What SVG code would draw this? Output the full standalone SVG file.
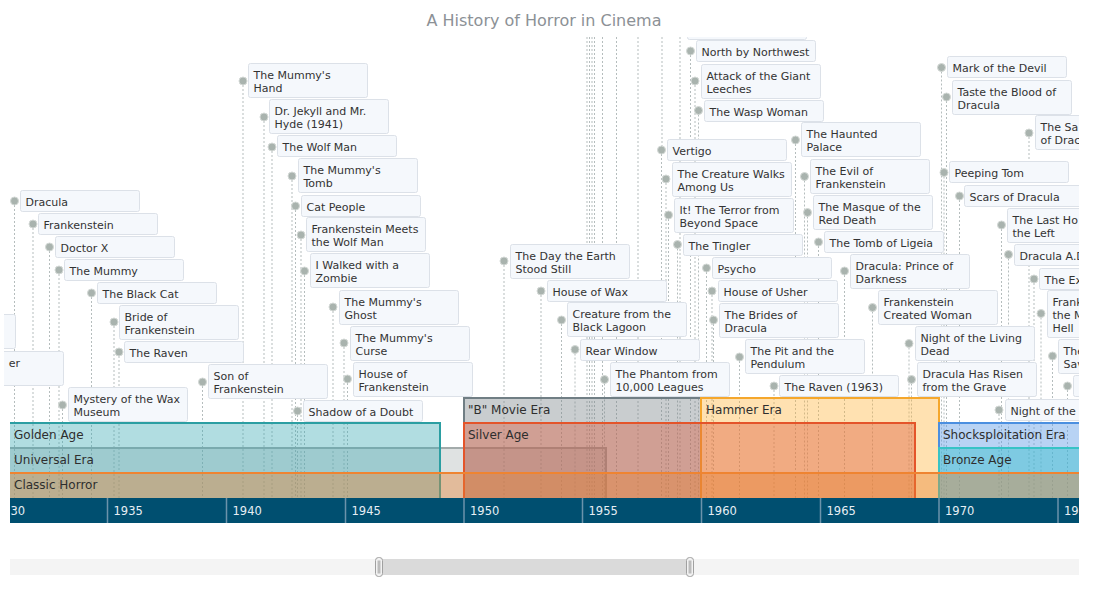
<svg xmlns="http://www.w3.org/2000/svg" width="1098" height="589" viewBox="0 0 1098 589">
<style>
.ln{stroke:#b5bdbd;stroke-width:1;stroke-dasharray:2 2;fill:none}
.mk{fill:#a9b3ae;stroke:#d4d9d6;stroke-width:1}
.bx{fill:#f5f8fc;stroke:#dce1e8;stroke-width:1}
.t{font-family:"DejaVu Sans",Verdana,sans-serif;font-size:11px;fill:#333}
.era{font-family:"DejaVu Sans",Verdana,sans-serif;font-size:12px;fill:#2e2e2e}
.yr{font-family:"DejaVu Sans",Verdana,sans-serif;font-size:11.5px;fill:#e6eef4}
.tk{stroke:#6b93ab;stroke-width:1.5}
.band{stroke-width:2}
</style>
<defs>
<clipPath id="pc"><rect x="4" y="37" width="1075" height="461"/></clipPath>
<clipPath id="bc"><rect x="10" y="0" width="1069" height="498"/></clipPath>
<clipPath id="ac"><rect x="10" y="498" width="1069" height="25"/></clipPath>
</defs>
<rect width="1098" height="589" fill="#ffffff"/>
<text x="544" y="26" text-anchor="middle" font-family="'DejaVu Sans',Verdana,sans-serif" font-size="16" fill="#8c9196">A History of Horror in Cinema</text>

<g id="connectors" clip-path="url(#pc)">
<path class="ln" d="M14.5 205V498M33 228V498M49.5 251V498M59 274V498M91.5 297V498M114 326V498M119 356V498M202.5 386V498M62.5 409V498M243 85V498M264 121V498M272 151V498M292 180V498M295.5 210V498M301 239V498M304.5 275V498M333 311V498M344 347V498M347.5 383V498M297.5 415V498M504 265V498M541 295V498M561.5 324V498M575 353.5V498M604.5 383.5V498M587 37V498M589.5 37V498M592 37V498M594.5 37V498M602.5 37V498M616.5 37V498M638 37V498M662 37V146M680 37V498M690.5 55V498M695 85V498M698.5 114.5V498M661.5 154V498M666 183V498M668.5 219V498M795.5 144V498M804.5 180.5V498M807.5 216.5V498M677.5 248.5V498M818.5 246V498M706.5 272V498M712 295V498M713.5 324V498M739.5 361V498M774 390V498M844.5 275V498M872.5 311.5V498M909 347.5V498M911.5 383.5V498M941.5 71.5V498M946.5 101V498M1029 137V498M944 176.5V498M959.5 200V498M1001.5 229V498M1008.5 258.5V498M1034 283V498M1041 317.5V498M1052.5 360V498M1067.5 390V498M999 414V498"/>
</g>

<g id="bands" clip-path="url(#bc)">
<rect id="era-universal" class="band" x="-10" y="448" width="616" height="60" fill="rgb(150,160,160)" fill-opacity="0.3" stroke="#a3abab"/>
<rect id="era-golden" class="band" x="-10" y="423" width="450" height="85" fill="rgb(60,170,180)" fill-opacity="0.4" stroke="#2b9ea2"/>
<rect id="era-bmovie" class="band" x="464" y="398" width="237" height="110" fill="rgb(120,130,135)" fill-opacity="0.4" stroke="#707e84"/>
<rect id="era-hammer" class="band" x="701" y="398" width="238" height="110" fill="rgb(255,180,60)" fill-opacity="0.4" stroke="#f5a72c"/>
<rect id="era-silver" class="band" x="464" y="423" width="451" height="85" fill="rgb(220,90,60)" fill-opacity="0.4" stroke="#e4542a"/>
<rect id="era-shock" class="band" x="939" y="423" width="200" height="85" fill="rgb(100,160,230)" fill-opacity="0.46" stroke="#4b8fe0"/>
<rect id="era-bronze" class="band" x="939" y="448" width="200" height="60" fill="rgb(40,190,200)" fill-opacity="0.4" stroke="#37c3c6"/>
<rect id="era-classic" class="band" x="-10" y="473" width="1150" height="35" fill="rgb(230,130,50)" fill-opacity="0.4" stroke="#ef8431"/>
</g>
<g id="era-labels">
<text class="era" x="14" y="464">Universal Era</text>
<text class="era" x="14" y="439">Golden Age</text>
<text class="era" x="468" y="414">"B" Movie Era</text>
<text class="era" x="706" y="414">Hammer Era</text>
<text class="era" x="468" y="439">Silver Age</text>
<text class="era" x="943" y="439">Shocksploitation Era</text>
<text class="era" x="943" y="464">Bronze Age</text>
<text class="era" x="14" y="489">Classic Horror</text>
</g>

<g id="events" clip-path="url(#pc)">
<g id="ev-left1"><rect class="bx" x="-103.5" y="314.5" width="119" height="34" rx="2"/></g>
<g id="ev-left2"><rect class="bx" x="-55.5" y="351.5" width="119" height="34" rx="2"/><text class="t" x="20" y="366.5" text-anchor="end">er</text></g>
<g id="ev01"><circle class="mk" cx="14.5" cy="201" r="4"/><rect class="bx" x="20.5" y="190.5" width="119" height="21" rx="2"/><text class="t" x="25.5" y="205.5">Dracula</text></g>
<g id="ev02"><circle class="mk" cx="33" cy="224" r="4"/><rect class="bx" x="38.5" y="213.5" width="119" height="21" rx="2"/><text class="t" x="43.5" y="228.5">Frankenstein</text></g>
<g id="ev03"><circle class="mk" cx="49.5" cy="247" r="4"/><rect class="bx" x="55.5" y="236.5" width="119" height="21" rx="2"/><text class="t" x="60.5" y="251.5">Doctor X</text></g>
<g id="ev04"><circle class="mk" cx="59" cy="270" r="4"/><rect class="bx" x="64.5" y="259.5" width="119" height="21" rx="2"/><text class="t" x="69.5" y="274.5">The Mummy</text></g>
<g id="ev05"><circle class="mk" cx="91.5" cy="293" r="4"/><rect class="bx" x="97.5" y="282.5" width="119" height="21" rx="2"/><text class="t" x="102.5" y="297.5">The Black Cat</text></g>
<g id="ev06"><circle class="mk" cx="114" cy="322" r="4"/><rect class="bx" x="119.5" y="305.5" width="119" height="34" rx="2"/><text class="t" x="124.5" y="320.5">Bride of<tspan x="124.5" dy="13">Frankenstein</tspan></text></g>
<g id="ev07"><circle class="mk" cx="119" cy="352" r="4"/><rect class="bx" x="124.5" y="341.5" width="119" height="21" rx="2"/><text class="t" x="129.5" y="356.5">The Raven</text></g>
<g id="ev08"><circle class="mk" cx="202.5" cy="382" r="4"/><rect class="bx" x="208.5" y="364.5" width="119" height="34" rx="2"/><text class="t" x="213.5" y="379.5">Son of<tspan x="213.5" dy="13">Frankenstein</tspan></text></g>
<g id="ev09"><circle class="mk" cx="62.5" cy="405" r="4"/><rect class="bx" x="68.5" y="387.5" width="119" height="34" rx="2"/><text class="t" x="73.5" y="402.5">Mystery of the Wax<tspan x="73.5" dy="13">Museum</tspan></text></g>
<g id="ev10"><circle class="mk" cx="243" cy="81" r="4"/><rect class="bx" x="248.5" y="63.5" width="119" height="34" rx="2"/><text class="t" x="253.5" y="78.5">The Mummy's<tspan x="253.5" dy="13">Hand</tspan></text></g>
<g id="ev11"><circle class="mk" cx="264" cy="117" r="4"/><rect class="bx" x="269.5" y="99.5" width="119" height="34" rx="2"/><text class="t" x="274.5" y="114.5">Dr. Jekyll and Mr.<tspan x="274.5" dy="13">Hyde (1941)</tspan></text></g>
<g id="ev12"><circle class="mk" cx="272" cy="147" r="4"/><rect class="bx" x="277.5" y="135.5" width="119" height="21" rx="2"/><text class="t" x="282.5" y="150.5">The Wolf Man</text></g>
<g id="ev13"><circle class="mk" cx="292" cy="176" r="4"/><rect class="bx" x="298.5" y="158.5" width="119" height="34" rx="2"/><text class="t" x="303.5" y="173.5">The Mummy's<tspan x="303.5" dy="13">Tomb</tspan></text></g>
<g id="ev14"><circle class="mk" cx="295.5" cy="206" r="4"/><rect class="bx" x="301.5" y="195.5" width="119" height="21" rx="2"/><text class="t" x="306.5" y="210.5">Cat People</text></g>
<g id="ev15"><circle class="mk" cx="301" cy="235" r="4"/><rect class="bx" x="306.5" y="217.5" width="119" height="34" rx="2"/><text class="t" x="311.5" y="232.5">Frankenstein Meets<tspan x="311.5" dy="13">the Wolf Man</tspan></text></g>
<g id="ev16"><circle class="mk" cx="304.5" cy="271" r="4"/><rect class="bx" x="310.5" y="253.5" width="119" height="34" rx="2"/><text class="t" x="315.5" y="268.5">I Walked with a<tspan x="315.5" dy="13">Zombie</tspan></text></g>
<g id="ev17"><circle class="mk" cx="333" cy="307" r="4"/><rect class="bx" x="339.5" y="290.5" width="119" height="34" rx="2"/><text class="t" x="344.5" y="305.5">The Mummy's<tspan x="344.5" dy="13">Ghost</tspan></text></g>
<g id="ev18"><circle class="mk" cx="344" cy="343" r="4"/><rect class="bx" x="350.5" y="326.5" width="119" height="34" rx="2"/><text class="t" x="355.5" y="341.5">The Mummy's<tspan x="355.5" dy="13">Curse</tspan></text></g>
<g id="ev19"><circle class="mk" cx="347.5" cy="379" r="4"/><rect class="bx" x="353.5" y="362.5" width="119" height="34" rx="2"/><text class="t" x="358.5" y="377.5">House of<tspan x="358.5" dy="13">Frankenstein</tspan></text></g>
<g id="ev20"><circle class="mk" cx="297.5" cy="411" r="4"/><rect class="bx" x="303.5" y="400.5" width="119" height="21" rx="2"/><text class="t" x="308.5" y="415.5">Shadow of a Doubt</text></g>
<g id="ev21"><circle class="mk" cx="504" cy="261" r="4"/><rect class="bx" x="510.5" y="244.5" width="119" height="34" rx="2"/><text class="t" x="515.5" y="259.5">The Day the Earth<tspan x="515.5" dy="13">Stood Still</tspan></text></g>
<g id="ev22"><circle class="mk" cx="541" cy="291" r="4"/><rect class="bx" x="547.5" y="280.5" width="119" height="21" rx="2"/><text class="t" x="552.5" y="295.5">House of Wax</text></g>
<g id="ev23"><circle class="mk" cx="561.5" cy="320" r="4"/><rect class="bx" x="567.5" y="302.5" width="119" height="34" rx="2"/><text class="t" x="572.5" y="317.5">Creature from the<tspan x="572.5" dy="13">Black Lagoon</tspan></text></g>
<g id="ev24"><circle class="mk" cx="575" cy="349.5" r="4"/><rect class="bx" x="580.5" y="339.5" width="119" height="21" rx="2"/><text class="t" x="585.5" y="354.5">Rear Window</text></g>
<g id="ev25"><circle class="mk" cx="604.5" cy="379.5" r="4"/><rect class="bx" x="610.5" y="362.5" width="119" height="34" rx="2"/><text class="t" x="615.5" y="377.5">The Phantom from<tspan x="615.5" dy="13">10,000 Leagues</tspan></text></g>
<g id="ev26"><rect class="bx" x="687.5" y="5.5" width="119" height="34" rx="2"/></g>
<g id="ev27"><circle class="mk" cx="690.5" cy="51" r="4"/><rect class="bx" x="696.5" y="40.5" width="119" height="21" rx="2"/><text class="t" x="701.5" y="55.5">North by Northwest</text></g>
<g id="ev28"><circle class="mk" cx="695" cy="81" r="4"/><rect class="bx" x="701.5" y="64.5" width="119" height="34" rx="2"/><text class="t" x="706.5" y="79.5">Attack of the Giant<tspan x="706.5" dy="13">Leeches</tspan></text></g>
<g id="ev29"><circle class="mk" cx="698.5" cy="110.5" r="4"/><rect class="bx" x="704.5" y="100.5" width="119" height="21" rx="2"/><text class="t" x="709.5" y="115.5">The Wasp Woman</text></g>
<g id="ev30"><circle class="mk" cx="661.5" cy="150" r="4"/><rect class="bx" x="667.5" y="139.5" width="119" height="21" rx="2"/><text class="t" x="672.5" y="154.5">Vertigo</text></g>
<g id="ev31"><circle class="mk" cx="666" cy="179" r="4"/><rect class="bx" x="672.5" y="162.5" width="119" height="34" rx="2"/><text class="t" x="677.5" y="177.5">The Creature Walks<tspan x="677.5" dy="13">Among Us</tspan></text></g>
<g id="ev32"><circle class="mk" cx="668.5" cy="215" r="4"/><rect class="bx" x="674.5" y="198.5" width="119" height="34" rx="2"/><text class="t" x="679.5" y="213.5">It! The Terror from<tspan x="679.5" dy="13">Beyond Space</tspan></text></g>
<g id="ev33"><circle class="mk" cx="795.5" cy="140" r="4"/><rect class="bx" x="801.5" y="122.5" width="119" height="34" rx="2"/><text class="t" x="806.5" y="137.5">The Haunted<tspan x="806.5" dy="13">Palace</tspan></text></g>
<g id="ev34"><circle class="mk" cx="804.5" cy="176.5" r="4"/><rect class="bx" x="810.5" y="159.5" width="119" height="34" rx="2"/><text class="t" x="815.5" y="174.5">The Evil of<tspan x="815.5" dy="13">Frankenstein</tspan></text></g>
<g id="ev35"><circle class="mk" cx="807.5" cy="212.5" r="4"/><rect class="bx" x="813.5" y="195.5" width="119" height="34" rx="2"/><text class="t" x="818.5" y="210.5">The Masque of the<tspan x="818.5" dy="13">Red Death</tspan></text></g>
<g id="ev36"><circle class="mk" cx="677.5" cy="244.5" r="4"/><rect class="bx" x="683.5" y="234.5" width="119" height="21" rx="2"/><text class="t" x="688.5" y="249.5">The Tingler</text></g>
<g id="ev37"><circle class="mk" cx="818.5" cy="242" r="4"/><rect class="bx" x="824.5" y="231.5" width="119" height="21" rx="2"/><text class="t" x="829.5" y="246.5">The Tomb of Ligeia</text></g>
<g id="ev38"><circle class="mk" cx="706.5" cy="268" r="4"/><rect class="bx" x="712.5" y="257.5" width="119" height="21" rx="2"/><text class="t" x="717.5" y="272.5">Psycho</text></g>
<g id="ev39"><circle class="mk" cx="712" cy="291" r="4"/><rect class="bx" x="718.5" y="280.5" width="119" height="21" rx="2"/><text class="t" x="723.5" y="295.5">House of Usher</text></g>
<g id="ev40"><circle class="mk" cx="713.5" cy="320" r="4"/><rect class="bx" x="719.5" y="303.5" width="119" height="34" rx="2"/><text class="t" x="724.5" y="318.5">The Brides of<tspan x="724.5" dy="13">Dracula</tspan></text></g>
<g id="ev41"><circle class="mk" cx="739.5" cy="357" r="4"/><rect class="bx" x="745.5" y="339.5" width="119" height="34" rx="2"/><text class="t" x="750.5" y="354.5">The Pit and the<tspan x="750.5" dy="13">Pendulum</tspan></text></g>
<g id="ev42"><circle class="mk" cx="774" cy="386" r="4"/><rect class="bx" x="779.5" y="375.5" width="119" height="21" rx="2"/><text class="t" x="784.5" y="390.5">The Raven (1963)</text></g>
<g id="ev43"><circle class="mk" cx="844.5" cy="271" r="4"/><rect class="bx" x="850.5" y="254.5" width="119" height="34" rx="2"/><text class="t" x="855.5" y="269.5">Dracula: Prince of<tspan x="855.5" dy="13">Darkness</tspan></text></g>
<g id="ev44"><circle class="mk" cx="872.5" cy="307.5" r="4"/><rect class="bx" x="878.5" y="290.5" width="119" height="34" rx="2"/><text class="t" x="883.5" y="305.5">Frankenstein<tspan x="883.5" dy="13">Created Woman</tspan></text></g>
<g id="ev45"><circle class="mk" cx="909" cy="343.5" r="4"/><rect class="bx" x="915.5" y="326.5" width="119" height="34" rx="2"/><text class="t" x="920.5" y="341.5">Night of the Living<tspan x="920.5" dy="13">Dead</tspan></text></g>
<g id="ev46"><circle class="mk" cx="911.5" cy="379.5" r="4"/><rect class="bx" x="917.5" y="362.5" width="119" height="34" rx="2"/><text class="t" x="922.5" y="377.5">Dracula Has Risen<tspan x="922.5" dy="13">from the Grave</tspan></text></g>
<g id="ev47"><circle class="mk" cx="941.5" cy="67.5" r="4"/><rect class="bx" x="947.5" y="56.5" width="119" height="21" rx="2"/><text class="t" x="952.5" y="71.5">Mark of the Devil</text></g>
<g id="ev48"><circle class="mk" cx="946.5" cy="97" r="4"/><rect class="bx" x="952.5" y="80.5" width="119" height="34" rx="2"/><text class="t" x="957.5" y="95.5">Taste the Blood of<tspan x="957.5" dy="13">Dracula</tspan></text></g>
<g id="ev49"><circle class="mk" cx="1029" cy="133" r="4"/><rect class="bx" x="1035.5" y="115.5" width="119" height="34" rx="2"/><text class="t" x="1040.5" y="130.5">The Sa<tspan x="1040.5" dy="13">of Drac</tspan></text></g>
<g id="ev50"><circle class="mk" cx="944" cy="172.5" r="4"/><rect class="bx" x="949.5" y="161.5" width="119" height="21" rx="2"/><text class="t" x="954.5" y="176.5">Peeping Tom</text></g>
<g id="ev51"><circle class="mk" cx="959.5" cy="196" r="4"/><rect class="bx" x="964.5" y="185.5" width="119" height="21" rx="2"/><text class="t" x="969.5" y="200.5">Scars of Dracula</text></g>
<g id="ev52"><circle class="mk" cx="1001.5" cy="225" r="4"/><rect class="bx" x="1007.5" y="208.5" width="119" height="34" rx="2"/><text class="t" x="1012.5" y="223.5">The Last Ho<tspan x="1012.5" dy="13">the Left</tspan></text></g>
<g id="ev53"><circle class="mk" cx="1008.5" cy="254.5" r="4"/><rect class="bx" x="1014.5" y="244.5" width="119" height="21" rx="2"/><text class="t" x="1019.5" y="259.5">Dracula A.D</text></g>
<g id="ev54"><circle class="mk" cx="1034" cy="279" r="4"/><rect class="bx" x="1039.5" y="268.5" width="119" height="21" rx="2"/><text class="t" x="1044.5" y="283.5">The Ex</text></g>
<g id="ev55"><circle class="mk" cx="1041" cy="313.5" r="4"/><rect class="bx" x="1047.5" y="290.5" width="119" height="47" rx="2"/><text class="t" x="1052.5" y="305.5">Frank<tspan x="1052.5" dy="13">the M</tspan><tspan x="1052.5" dy="13">Hell</tspan></text></g>
<g id="ev56"><circle class="mk" cx="1052.5" cy="356" r="4"/><rect class="bx" x="1058.5" y="339.5" width="119" height="34" rx="2"/><text class="t" x="1063.5" y="354.5">The<tspan x="1063.5" dy="13">Sav</tspan></text></g>
<g id="ev57"><circle class="mk" cx="1067.5" cy="386" r="4"/><rect class="bx" x="1073.5" y="375.5" width="119" height="21" rx="2"/></g>
<g id="ev58"><circle class="mk" cx="999" cy="410" r="4"/><rect class="bx" x="1005.5" y="399.5" width="119" height="21" rx="2"/><text class="t" x="1010.5" y="414.5">Night of the</text></g>
</g>

<g id="axis" clip-path="url(#ac)">
<rect x="10" y="498" width="1069" height="25" fill="#004f70"/>
<path class="tk" d="M107.5 498V523M226.5 498V523M345.5 498V523M464 498V523M582.5 498V523M701.5 498V523M820.5 498V523M939 498V523M1058 498V523"/>
<text class="yr" x="10.5" y="515">30</text>
<text class="yr" x="113.5" y="515">1935</text>
<text class="yr" x="232.5" y="515">1940</text>
<text class="yr" x="351.5" y="515">1945</text>
<text class="yr" x="470" y="515">1950</text>
<text class="yr" x="588.5" y="515">1955</text>
<text class="yr" x="707.5" y="515">1960</text>
<text class="yr" x="826.5" y="515">1965</text>
<text class="yr" x="945" y="515">1970</text>
<text class="yr" x="1064" y="515">1975</text>
</g>

<g id="scroller">
<rect x="10" y="559" width="1069" height="16" fill="#f4f4f4"/>
<rect x="379" y="559" width="311" height="16" fill="#dadada"/>
<rect x="375.5" y="557.5" width="7" height="19" rx="3" fill="#f2f2f2" stroke="#a0a0a0"/>
<rect x="377.5" y="560.5" width="3" height="13" fill="#bcbcbc"/>
<rect x="686.5" y="557.5" width="7" height="19" rx="3" fill="#f2f2f2" stroke="#a0a0a0"/>
<rect x="688.5" y="560.5" width="3" height="13" fill="#bcbcbc"/>
</g>
</svg>
